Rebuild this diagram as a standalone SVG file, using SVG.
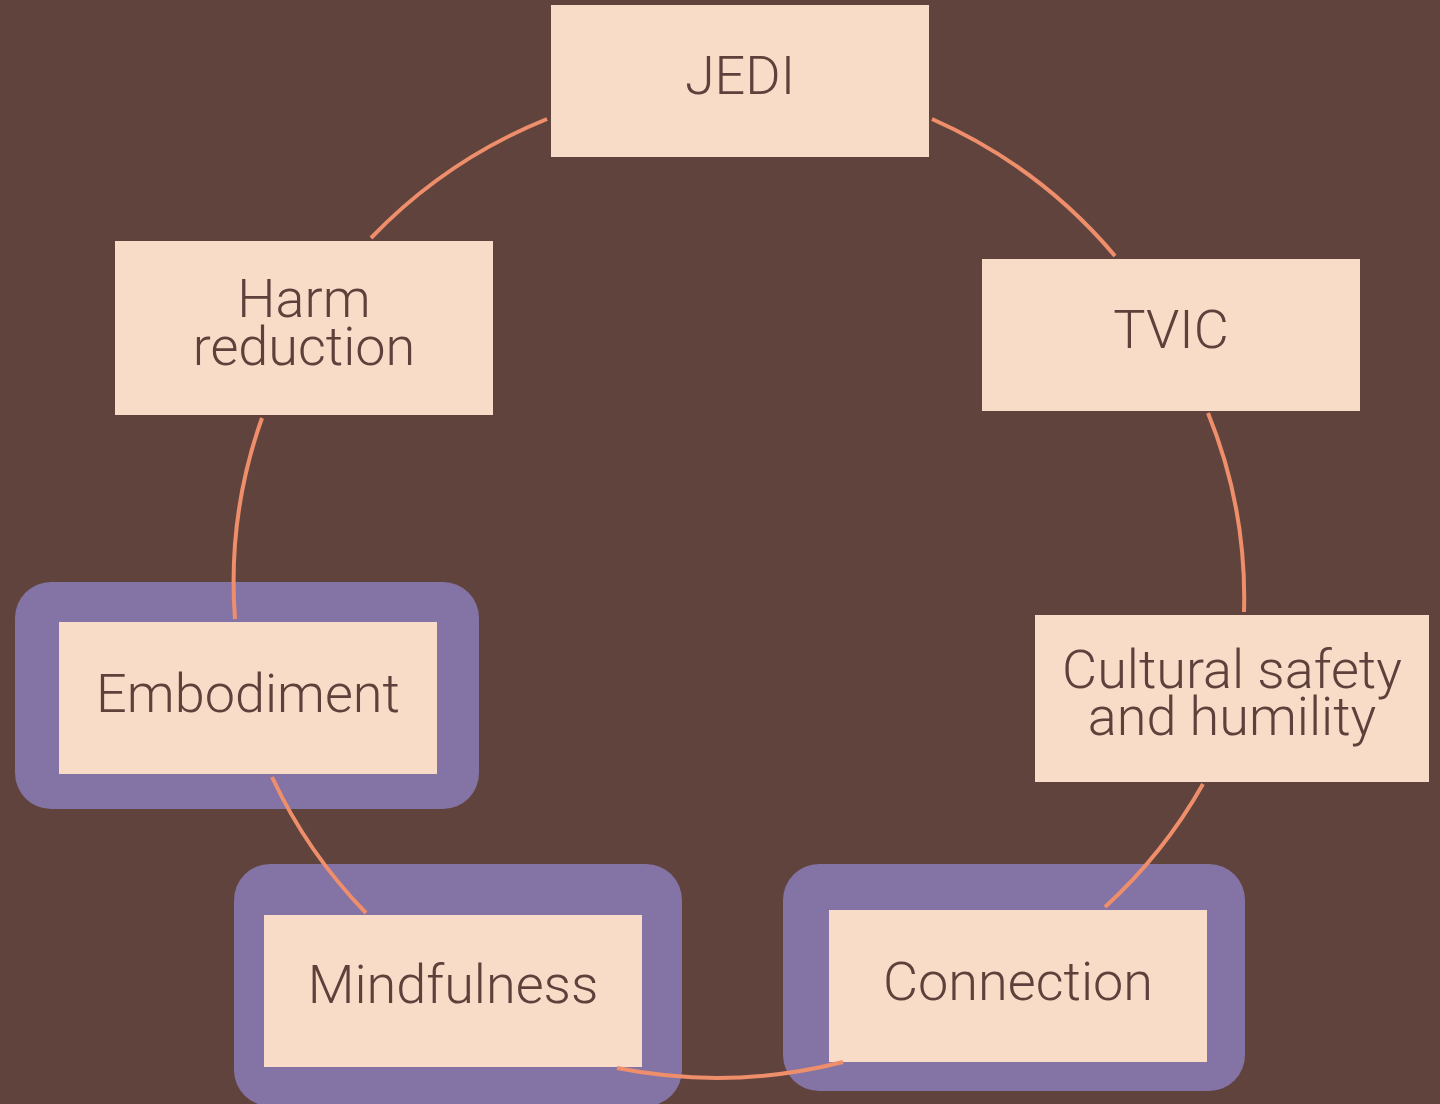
<svg xmlns="http://www.w3.org/2000/svg" width="1440" height="1104" viewBox="0 0 1440 1104">
<style>
.bg{fill:#61433D}
.hl{fill:#8473A5}
.box{fill:#F8DCC8}
.lbl{font-family:Roboto,"Liberation Sans",sans-serif;font-weight:300;font-size:54px;fill:#5E413B;text-anchor:middle}
.arc{fill:none;stroke:#EF8E6B;stroke-width:4}
</style>
<rect class="bg" x="0" y="0" width="1440" height="1104"/>
<g id="node-jedi">
<rect class="box" x="551" y="5" width="378" height="152"/>
<text class="lbl" x="740" y="94">JEDI</text>
</g>
<g id="node-tvic">
<rect class="box" x="982" y="259" width="378" height="152"/>
<text class="lbl" x="1171" y="348">TVIC</text>
</g>
<g id="node-cultural">
<rect class="box" x="1035" y="615" width="394" height="167"/>
<text class="lbl" x="1232" y="688">Cultural safety</text>
<text class="lbl" x="1232" y="735">and humility</text>
</g>
<g id="node-connection">
<rect class="hl" x="783" y="864" width="462" height="227" rx="36"/>
<rect class="box" x="829" y="910" width="378" height="152"/>
<text class="lbl" x="1018" y="1000">Connection</text>
</g>
<g id="node-mindfulness">
<rect class="hl" x="234" y="864" width="448" height="242" rx="36"/>
<rect class="box" x="264" y="915" width="378" height="152"/>
<text class="lbl" x="453" y="1003">Mindfulness</text>
</g>
<g id="node-embodiment">
<rect class="hl" x="15" y="582" width="464" height="227" rx="36"/>
<rect class="box" x="59" y="622" width="378" height="152"/>
<text class="lbl" x="248" y="712">Embodiment</text>
</g>
<g id="node-harm">
<rect class="box" x="115" y="241" width="378" height="174"/>
<text class="lbl" x="304" y="317">Harm</text>
<text class="lbl" x="304" y="365">reduction</text>
</g>
<g id="connectors">
<path class="arc" d="M371,238 A506,497.5 0 0 1 547,119"/>
<path class="arc" d="M932,119 A506,497.5 0 0 1 1115,256"/>
<path class="arc" d="M1208,413 A506,497.5 0 0 1 1244,612"/>
<path class="arc" d="M1203,784 A506,497.5 0 0 1 1105,907"/>
<path class="arc" d="M843,1062 A506,497.5 0 0 1 617,1068"/>
<path class="arc" d="M366,913 A506,497.5 0 0 1 272,777"/>
<path class="arc" d="M235,619 A506,497.5 0 0 1 262,418"/>
</g>
</svg>
